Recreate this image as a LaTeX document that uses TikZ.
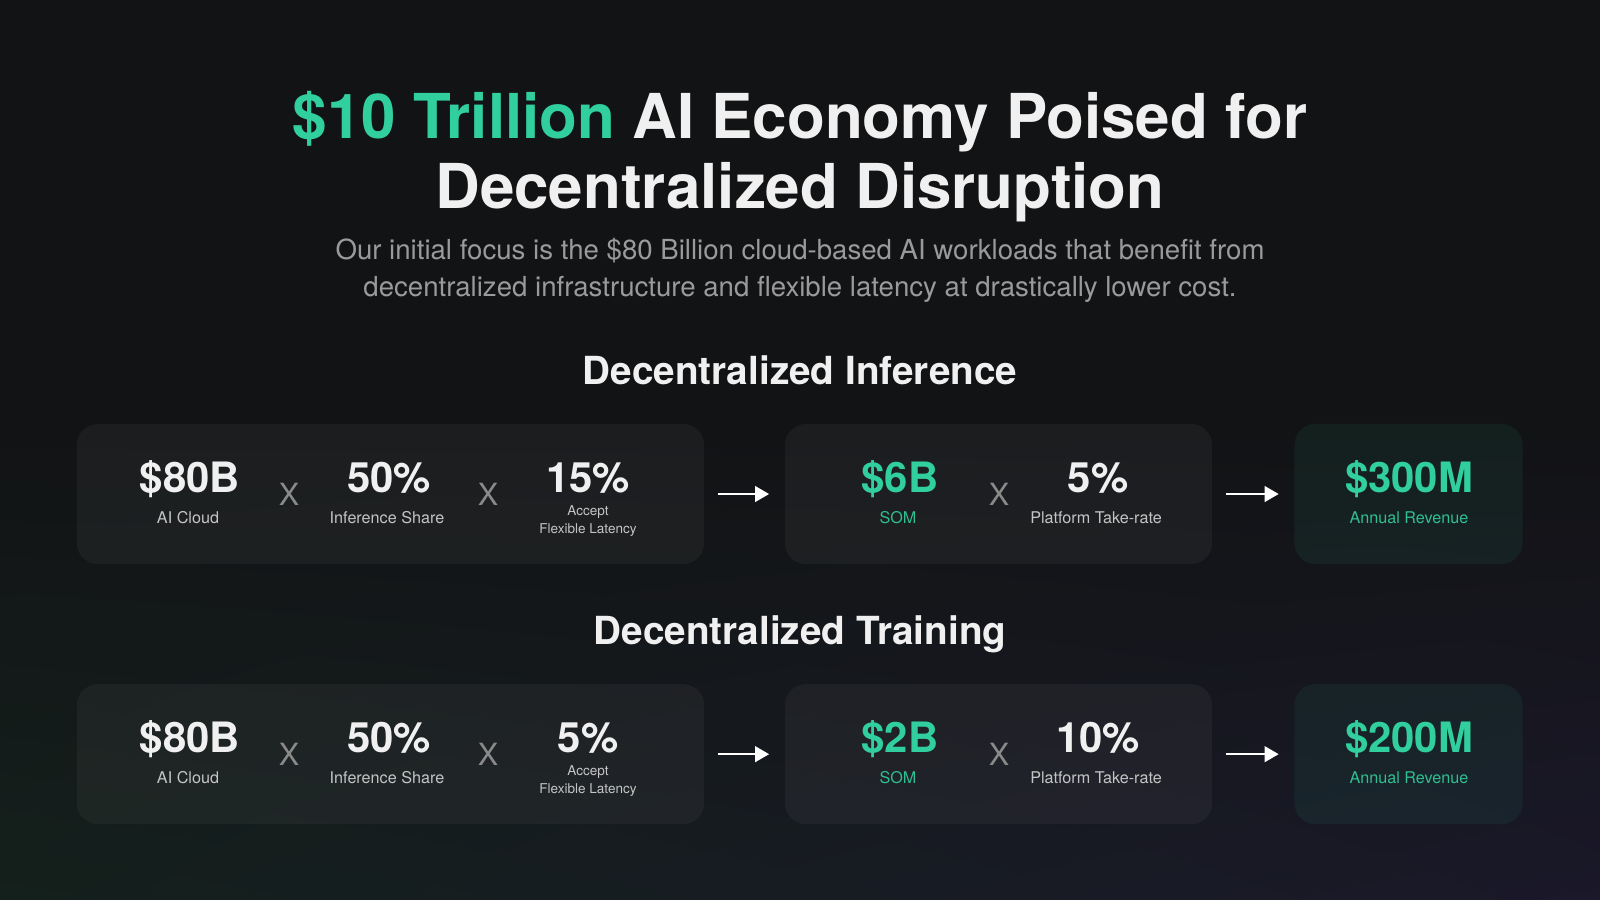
\documentclass[tikz,border=0pt]{standalone}
\usepackage{fontspec}
\setmainfont{TeX Gyre Heros}
\usetikzlibrary{arrows.meta,positioning,shadings}
\definecolor{bgtop}{HTML}{121315}
\definecolor{bgleft}{HTML}{14201C}
\definecolor{bgright}{HTML}{1A1829}
\definecolor{mint}{HTML}{31CF9E}
\definecolor{mintlab}{HTML}{2FBF90}
\definecolor{ink}{HTML}{F0F0F0}
\definecolor{subgray}{HTML}{9A9A9A}
\definecolor{labgray}{HTML}{C4C4C4}
\definecolor{xgray}{HTML}{8A8A8A}

\begin{document}
\begin{tikzpicture}[x=0.01cm,y=-0.01cm,
    box/.style={rounded corners=6pt,fill=white,fill opacity=0.045,minimum height=1.4cm,inner sep=0pt},
    revbox/.style={box,fill=mint,fill opacity=0.07},
    ttl/.style={font=\bfseries\fontsize{17.6}{20}\selectfont,text=ink,anchor=base,inner sep=0pt},
    sub/.style={font=\fontsize{7.85}{9}\selectfont,text=subgray,anchor=base,inner sep=0pt},
    head/.style={font=\bfseries\fontsize{11}{13}\selectfont,text=ink,anchor=base,inner sep=0pt},
    val/.style={font=\bfseries\fontsize{11.9}{14}\selectfont,text=ink,anchor=base,inner sep=0pt},
    lab/.style={font=\fontsize{4.6}{5.5}\selectfont,text=labgray,anchor=base,inner sep=0pt},
    note/.style={font=\fontsize{3.85}{4.6}\selectfont,text=labgray,anchor=base,inner sep=0pt},
    times/.style={font=\fontsize{8.7}{10}\selectfont,text=xgray,inner sep=0pt},
    flow/.style={-{Triangle[length=4pt,width=4.4pt]},line width=0.75pt,white,
      shorten <=0.13cm,shorten >=0.15cm}]
  \useasboundingbox (0,0) rectangle (1600,899);
  % background
  \fill[bgtop] (0,0) rectangle (1600,899);
  \shade[upper left=bgtop,upper right=bgtop,lower left=bgleft,lower right=bgright]
    (0,430) rectangle (1600,899);

  \node[ttl] (title1) at (800,138) {\textcolor{mint}{\$10 Trillion} AI Economy Poised for};
  \node[ttl] (title2) at (800,208) {Decentralized Disruption};
  \node[sub] (sub1) at (800,259) {Our initial focus is the \$80 Billion cloud-based AI workloads that benefit from};
  \node[sub] (sub2) at (800,296) {decentralized infrastructure and flexible latency at drastically lower cost.};

  \foreach \row/\dy/\kind/\accept/\som/\take/\rev in
      {inf/0/Inference/15/6/5/300, trn/-2.6/Training/5/2/10/200} {
    \begin{scope}[yshift=\dy cm]
      \node[head] (\row-head) at (800,384) {Decentralized \kind};
      \node[box,minimum width=6.27cm] (\row-left) at (390.5,494) {};
      \node[box,minimum width=4.27cm] (\row-mid) at (998.5,494) {};
      \node[revbox,minimum width=2.28cm] (\row-rev) at (1408.5,494) {};

      \node[val] (\row-cloud) at (190,492) {\$80B};
      \node[lab] (\row-cloudlab) at (188,523) {AI Cloud};
      \node[times] (\row-x1) at (289,494) {X};
      \node[val] (\row-share) at (389,492) {50\%};
      \node[lab] (\row-sharelab) at (387,523) {Inference Share};
      \node[times] (\row-x2) at (488,494) {X};
      \node[val] (\row-flex) at (588,492) {\accept\%};
      \node[note] (\row-acc) at (588,515) {Accept};
      \node[note] (\row-lat) at (588,533) {Flexible Latency};

      \node[val,text=mint] (\row-som) at (900,492) {\$\som B};
      \node[lab,text=mintlab] (\row-somlab) at (898,523) {SOM};
      \node[times] (\row-x3) at (999,494) {X};
      \node[val] (\row-take) at (1098,492) {\take\%};
      \node[lab] (\row-takelab) at (1096,523) {Platform Take-rate};

      \node[val,text=mint] (\row-revval) at (1409,492) {\$\rev M};
      \node[lab,text=mintlab] (\row-revlab) at (1409,523) {Annual Revenue};

      \draw[flow] (\row-left.east) -- (\row-mid.west);
      \draw[flow] (\row-mid.east) -- (\row-rev.west);
    \end{scope}
  }
\end{tikzpicture}
\end{document}
